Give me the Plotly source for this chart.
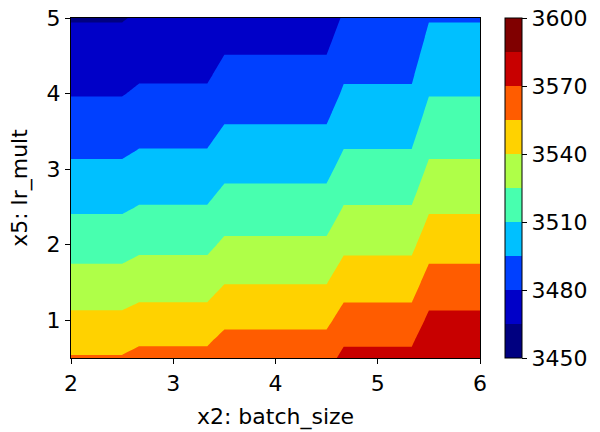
import plotly.graph_objects as go

# x2: batch_size grid positions (plateaus of the rounded batch-size exponent)
x_vals = [2.0, 2.5, 2.6667, 3.3333, 3.5, 4.5, 4.6667, 5.3333, 5.5, 6.0]
# x5: lr_mult grid
y_vals = [0.5, 0.75, 1.0, 1.25, 1.5, 1.75, 2.0, 2.25, 2.5, 2.75,
          3.0, 3.25, 3.5, 3.75, 4.0, 4.25, 4.5, 4.75, 5.0]

# objective profiles along y for each rounded batch-size exponent
z_bs2 = [3556.0, 3549.9, 3543.3, 3537.0, 3530.9, 3524.9, 3519.1, 3513.4, 3507.9, 3502.7,
         3497.6, 3492.7, 3488.2, 3483.7, 3479.3, 3475.5, 3471.7, 3467.9, 3464.1]
z_bs3 = [3558.9, 3552.6, 3546.0, 3539.7, 3533.6, 3527.6, 3521.8, 3516.1, 3510.6, 3505.4,
         3500.3, 3495.4, 3490.9, 3486.4, 3482.0, 3478.2, 3474.4, 3470.6, 3466.8]
z_bs4 = [3564.6, 3558.4, 3551.8, 3545.5, 3539.4, 3533.4, 3527.6, 3521.9, 3516.4, 3511.2,
         3506.1, 3501.2, 3496.7, 3492.2, 3487.8, 3484.0, 3480.2, 3476.4, 3472.6]
z_bs5 = [3573.6, 3567.5, 3560.9, 3554.6, 3548.5, 3542.5, 3536.7, 3531.0, 3525.5, 3520.3,
         3515.2, 3510.3, 3505.8, 3501.3, 3496.9, 3493.1, 3489.3, 3485.5, 3481.7]
z_bs6 = [3584.5, 3579.6, 3573.1, 3567.0, 3560.9, 3554.9, 3549.1, 3543.4, 3537.9, 3532.7,
         3527.6, 3522.7, 3518.2, 3513.7, 3509.3, 3505.5, 3501.7, 3497.9, 3494.1]

band_colors = ["#000080", "#0000C8", "#0040FF", "#00C0FF", "#48FFAF",
               "#AFFF48", "#FFD200", "#FF5C00", "#C80000", "#800000"]
cbar_ticks = [3450, 3480, 3510, 3540, 3570, 3600]
x_ticks = [2, 3, 4, 5, 6]
y_ticks = [1, 2, 3, 4, 5]

columns = [z_bs2, z_bs2, z_bs3, z_bs3, z_bs4, z_bs4, z_bs5, z_bs5, z_bs6, z_bs6]
z = [[col[i] for col in columns] for i in range(len(y_vals))]


def stepped(colors):
    n = len(colors)
    scale = []
    for k, c in enumerate(colors):
        scale.append([k / n, c])
        scale.append([(k + 1) / n, c])
    return scale


# plotly maps [start - size, end] onto [0, 1] for filled contours (11 slots)
contour_scale = stepped([band_colors[0]] + band_colors)
cbar_scale = stepped(band_colors)

FONT = "DejaVu Sans"
FS = 22

fig = go.Figure()
fig.add_trace(go.Contour(
    x=x_vals, y=y_vals, z=z,
    autocontour=False,
    contours=dict(start=3450, end=3600, size=15, coloring="fill", showlines=False),
    line=dict(width=0, smoothing=0),
    colorscale=contour_scale,
    showscale=False,
    hoverinfo="skip",
))
# invisible trace that carries the discrete colorbar (3450..3600)
fig.add_trace(go.Scatter(
    x=[None], y=[None], mode="markers", showlegend=False, hoverinfo="skip",
    marker=dict(
        color=[3450], cmin=3450, cmax=3600, colorscale=cbar_scale, showscale=True,
        colorbar=dict(
            x=(505 - 71) / 409, xanchor="left", y=0.5, yanchor="middle",
            len=1.0, lenmode="fraction",
            thickness=17, thicknessmode="pixels",
            outlinewidth=1, outlinecolor="black",
            tickmode="array", tickvals=cbar_ticks,
            ticks="outside", ticklen=5, tickwidth=1, tickcolor="black",
            tickfont=dict(family=FONT, size=FS, color="black"),
            xpad=0, ypad=0,
        ),
    ),
))

fig.update_layout(
    width=600, height=432,
    margin=dict(l=71, r=120, t=18, b=74, autoexpand=False),
    paper_bgcolor="white", plot_bgcolor="white",
    font=dict(family=FONT, size=FS, color="black"),
    showlegend=False,
    xaxis=dict(
        range=[2, 6], tickmode="array", tickvals=x_ticks, automargin=False,
        showline=True, mirror=True, linecolor="black", linewidth=1.2,
        ticks="outside", ticklen=5, tickcolor="black", showgrid=False, zeroline=False,
        tickfont=dict(family=FONT, size=FS),
        title=dict(text="x2: batch_size", font=dict(family=FONT, size=FS), standoff=14),
    ),
    yaxis=dict(
        range=[0.5, 5], tickmode="array", tickvals=y_ticks, automargin=False,
        showline=True, mirror=True, linecolor="black", linewidth=1.2,
        ticks="outside", ticklen=5, tickcolor="black", showgrid=False, zeroline=False,
        tickfont=dict(family=FONT, size=FS),
        title=dict(text="x5: lr_mult", font=dict(family=FONT, size=FS), standoff=12),
    ),
)

fig.write_html("out.html", config={"displayModeBar": False},
               post_script="document.body.style.margin='0';")
